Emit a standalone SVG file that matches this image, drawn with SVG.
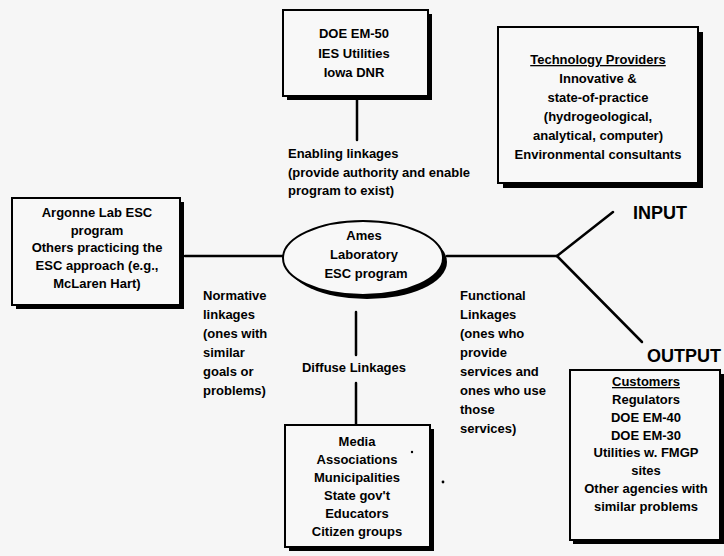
<svg xmlns="http://www.w3.org/2000/svg" width="724" height="556" viewBox="0 0 724 556">
<style>
  .bg{fill:#f6f6f6}
  .box{fill:#f8f8f8;stroke:#000;stroke-width:2}
  .sh{fill:#000}
  .ln{stroke:#000;stroke-width:2.5;fill:none;stroke-linecap:round}
  text{font-family:"Liberation Sans",Arial,sans-serif;font-weight:bold;font-size:13px;fill:#000}
  .c{text-anchor:middle}
  .big{font-size:18px;font-weight:bold}
  .u{text-decoration:underline}
</style>
<rect class="bg" x="0" y="0" width="724" height="556"/>

<g id="connectors">
  <line class="ln" x1="357" y1="100" x2="357" y2="140"/>
  <line class="ln" x1="185" y1="256" x2="283" y2="256"/>
  <line class="ln" x1="447" y1="256" x2="557" y2="256"/>
  <line class="ln" x1="557" y1="256" x2="613" y2="212"/>
  <line class="ln" x1="557" y1="256" x2="642" y2="342"/>
  <line class="ln" x1="356" y1="312" x2="356" y2="355"/>
  <line class="ln" x1="356" y1="383" x2="356" y2="425"/>
</g>

<g id="labels">
  <text x="288" y="158">Enabling linkages</text>
  <text x="288" y="177">(provide authority and enable</text>
  <text x="288" y="195">program to exist)</text>

  <text x="203" y="300">Normative</text>
  <text x="203" y="319">linkages</text>
  <text x="203" y="338">(ones with</text>
  <text x="203" y="357">similar</text>
  <text x="203" y="376">goals or</text>
  <text x="203" y="395">problems)</text>

  <text class="c" x="354" y="372">Diffuse Linkages</text>

  <text x="460" y="300">Functional</text>
  <text x="460" y="319">Linkages</text>
  <text x="460" y="338">(ones who</text>
  <text x="460" y="357">provide</text>
  <text x="460" y="376">services and</text>
  <text x="460" y="395">ones who use</text>
  <text x="460" y="414">those</text>
  <text x="460" y="433">services)</text>

  <text class="big" x="633" y="219">INPUT</text>
  <text class="big" x="647" y="362">OUTPUT</text>
</g>

<g id="doe">
  <rect class="sh" x="287" y="14" width="145" height="86"/>
  <rect class="box" x="283" y="10" width="145" height="86"/>
  <text class="c" x="354" y="38">DOE EM-50</text>
  <text class="c" x="354" y="58">IES Utilities</text>
  <text class="c" x="354" y="77">Iowa DNR</text>
</g>

<g id="tech">
  <rect class="sh" x="503" y="32" width="200" height="156"/>
  <rect class="box" x="498" y="27" width="200" height="156"/>
  <text class="c u" x="598" y="64">Technology Providers</text>
  <text class="c" x="598" y="83">Innovative &amp;</text>
  <text class="c" x="598" y="102">state-of-practice</text>
  <text class="c" x="598" y="121">(hydrogeological,</text>
  <text class="c" x="598" y="140">analytical, computer)</text>
  <text class="c" x="598" y="159">Environmental consultants</text>
</g>

<g id="argonne">
  <rect class="sh" x="16" y="202" width="168" height="107"/>
  <rect class="box" x="12" y="198" width="168" height="107"/>
  <text class="c" x="97" y="217">Argonne Lab ESC</text>
  <text class="c" x="97" y="235">program</text>
  <text class="c" x="97" y="252">Others practicing the</text>
  <text class="c" x="97" y="270">ESC approach (e.g.,</text>
  <text class="c" x="97" y="288">McLaren Hart)</text>
</g>

<g id="ames">
  <ellipse class="sh" cx="367" cy="262" rx="80" ry="37"/>
  <ellipse class="box" cx="363" cy="258" rx="80" ry="37"/>
  <text class="c" x="364" y="240">Ames</text>
  <text class="c" x="364" y="259">Laboratory</text>
  <text class="c" x="366" y="278">ESC program</text>
</g>

<g id="media">
  <rect class="sh" x="289" y="429" width="145" height="122"/>
  <rect class="box" x="285" y="425" width="145" height="122"/>
  <text class="c" x="357" y="446">Media</text>
  <text class="c" x="357" y="464">Associations</text>
  <text class="c" x="357" y="482">Municipalities</text>
  <text class="c" x="357" y="500">State gov't</text>
  <text class="c" x="357" y="518">Educators</text>
  <text class="c" x="357" y="536">Citizen groups</text>
  <circle cx="412" cy="452" r="1.2" fill="#000"/>
  <circle cx="443" cy="482" r="1.4" fill="#000"/>
</g>

<g id="customers">
  <rect class="sh" x="573" y="374" width="151" height="170"/>
  <rect class="box" x="570" y="370" width="150" height="170"/>
  <text class="c u" x="646" y="386">Customers</text>
  <text class="c" x="646" y="404">Regulators</text>
  <text class="c" x="646" y="422">DOE EM-40</text>
  <text class="c" x="646" y="440">DOE EM-30</text>
  <text class="c" x="646" y="457">Utilities w. FMGP</text>
  <text class="c" x="646" y="475">sites</text>
  <text class="c" x="646" y="493">Other agencies with</text>
  <text class="c" x="646" y="511">similar problems</text>
</g>
</svg>
